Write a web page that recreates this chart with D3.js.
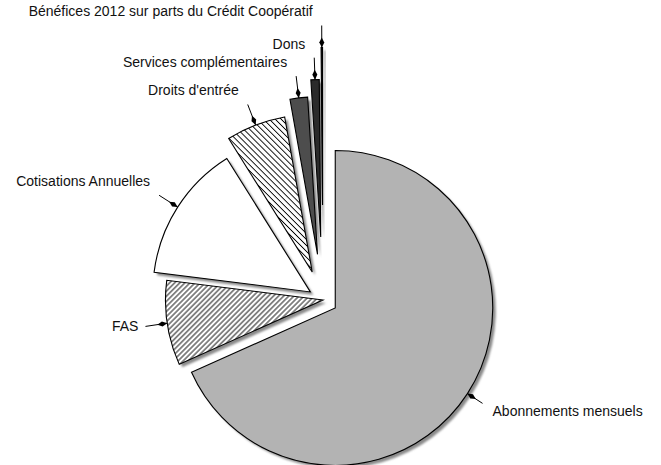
<!DOCTYPE html>
<html>
<head>
<meta charset="utf-8">
<script src="https://cdn.jsdelivr.net/npm/d3@7"></script>
<style>
  body { margin: 0; background: #fff; }
  text { font-family: "Liberation Sans", Arial, Helvetica, sans-serif; font-size: 14px; fill: #111; }
</style>
</head>
<body>
<script>
// slices, clockwise from 12 o'clock
const categories = [
  "Abonnements mensuels",
  "FAS",
  "Cotisations Annuelles",
  "Droits d'entrée",
  "Services complémentaires",
  "Dons",
  "Bénéfices 2012 sur parts du Crédit Coopératif"
];
const values = [68.3, 8.7, 14.1, 6.1, 1.8, 0.85, 0.15];

const width = 661;
const height = 465;
const cx = 323, cy = 300;
const radius = 157.5;

// how far each slice is pulled out of the pie
const explode = [14.6, 0, 15, 30, 46, 63, 95];
const fills = ["#b3b3b3", "url(#hatchUp)", "#ffffff", "url(#hatchDown)", "#4d4d4d", "#2b2b2b", "#000000"];

const svg = d3.select("body").append("svg")
  .attr("width", width)
  .attr("height", height);

const defs = svg.append("defs");

function hatch(id, angle, gap) {
  const p = defs.append("pattern")
    .attr("id", id)
    .attr("patternUnits", "userSpaceOnUse")
    .attr("width", gap)
    .attr("height", gap)
    .attr("patternTransform", `rotate(${angle})`);
  p.append("rect").attr("width", gap).attr("height", gap).attr("fill", "#fff");
  p.append("line")
    .attr("x1", gap / 2).attr("y1", 0)
    .attr("x2", gap / 2).attr("y2", gap)
    .attr("stroke", "#000")
    .attr("stroke-width", 0.9);
}
hatch("hatchUp", 45, 3.6);
hatch("hatchDown", -45, 4.2);

defs.append("filter")
  .attr("id", "blur")
  .attr("x", "-5%").attr("y", "-5%").attr("width", "110%").attr("height", "110%")
  .append("feGaussianBlur")
  .attr("stdDeviation", 0.8);

const pie = d3.pie().sort(null).value(d => d);
const slices = pie(values);

const arc = d3.arc().innerRadius(0).outerRadius(radius);

const unit = a => [Math.sin(a), -Math.cos(a)];
const mid = d => (d.startAngle + d.endAngle) / 2;
const origin = (d, i) => {
  const u = unit(mid(d));
  return [cx + explode[i] * u[0], cy + explode[i] * u[1]];
};

// shadows first
svg.append("g")
  .selectAll("path")
  .data(slices)
  .join("path")
  .attr("d", arc)
  .attr("transform", (d, i) => {
    const o = origin(d, i);
    return `translate(${o[0] + 3}, ${o[1] + 3})`;
  })
  .attr("fill", "#8a8a8a")
  .attr("filter", "url(#blur)");

svg.append("g")
  .selectAll("path")
  .data(slices)
  .join("path")
  .attr("d", arc)
  .attr("transform", (d, i) => {
    const o = origin(d, i);
    return `translate(${o[0]}, ${o[1]})`;
  })
  .attr("fill", (d, i) => fills[i])
  .attr("stroke", "#000")
  .attr("stroke-width", 1.1)
  .attr("stroke-linejoin", "miter");

// leaders with diamond heads + labels
const leaders = svg.append("g");

slices.forEach((d, i) => {
  const a = mid(d);
  const u = unit(a);
  const n = [-u[1], u[0]];
  const o = origin(d, i);
  const len = i === 0 ? 18 : 22;
  const p = t => [o[0] + t * u[0], o[1] + t * u[1]];

  const s = p(radius);
  const e = p(radius + len);

  leaders.append("line")
    .attr("x1", s[0]).attr("y1", s[1])
    .attr("x2", e[0]).attr("y2", e[1])
    .attr("stroke", "#000")
    .attr("stroke-width", 1);

  const c = p(radius + 5);
  const tip1 = p(radius);
  const tip2 = p(radius + 10);
  leaders.append("path")
    .attr("d", d3.line()([
      tip1,
      [c[0] + 2.5 * n[0], c[1] + 2.5 * n[1]],
      tip2,
      [c[0] - 2.5 * n[0], c[1] - 2.5 * n[1]]
    ]) + "Z")
    .attr("fill", "#000");

  const deg = a * 180 / Math.PI;
  let x, y, anchor;
  if (deg < 180) {
    anchor = "start"; x = e[0] + 10; y = e[1] + 8;
  } else if (deg < 290) {
    anchor = "end"; x = e[0] - 7; y = e[1];
  } else {
    anchor = "end"; x = e[0] - 9; y = e[1] - 14;
  }

  leaders.append("text")
    .attr("x", x)
    .attr("y", y)
    .attr("dy", "0.35em")
    .attr("text-anchor", anchor)
    .text(categories[i]);
});
</script>
</body>
</html>
